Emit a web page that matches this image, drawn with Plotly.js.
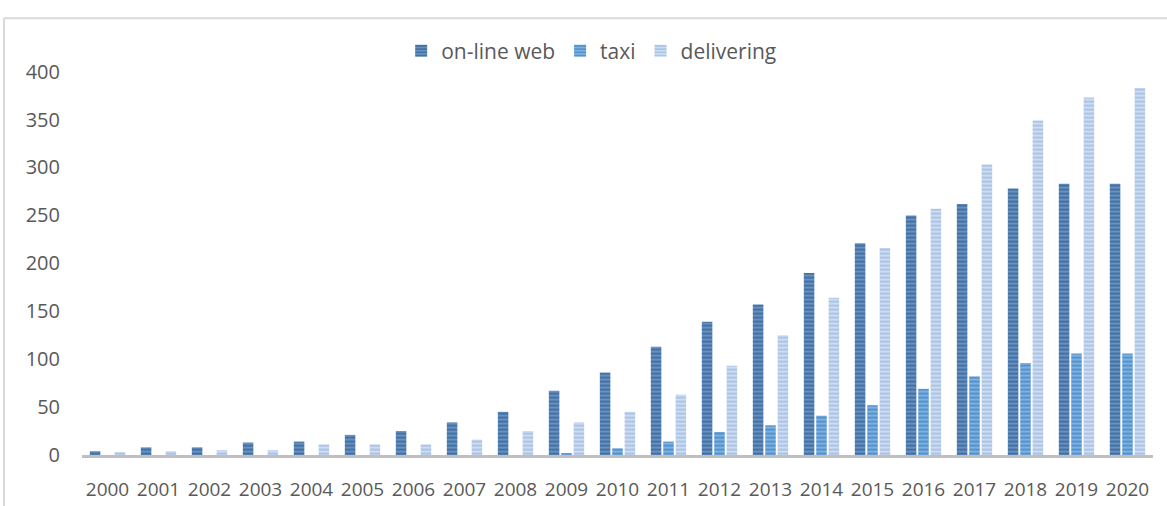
<!DOCTYPE html>
<html>
<head>
<meta charset="utf-8">
<script src="https://cdn.plot.ly/plotly-3.0.1.min.js"></script>
<style>html,body{margin:0;padding:0;background:#fff;}#chart{width:1167px;height:506px;}</style>
</head>
<body>
<div id="chart"></div>
<script>
const years = ["2000","2001","2002","2003","2004","2005","2006","2007","2008","2009","2010","2011","2012","2013","2014","2015","2016","2017","2018","2019","2020"];
const onlineWeb = [4,8,8,13,14,21,25,34,45,67,86,113,139,157,190,221,250,262,278,283,283];
const taxi = [0,0,0,0,0,0,0,0,0,2,7,14,24,31,41,52,69,82,96,106,106];
const delivering = [3,4,5,5,11,11,11,16,25,34,45,63,93,125,164,216,257,303,349,373,383];
const seriesNames = ["on-line web","taxi","delivering"];

function bar(name, y, fg, bg) {
  return {
    type: 'bar', name: name, x: years, y: y,
    marker: {
      color: bg,
      line: {width: 0},
      pattern: {shape: '-', fgcolor: fg, bgcolor: bg, size: 4, solidity: 0.45, fillmode: 'replace'}
    },
    hoverinfo: 'x+y+name'
  };
}

const data = [
  bar(seriesNames[0], onlineWeb, '#3f6e9f', '#6691c2'),
  bar(seriesNames[1], taxi, '#4f8fcc', '#7db1e0'),
  bar(seriesNames[2], delivering, '#a7c1e4', '#cddcf1')
];

const font = {family: 'Open Sans, Liberation Sans, sans-serif', size: 19, color: '#595959'};

const layout = {
  width: 1167, height: 506,
  margin: {l: 82, r: 14, t: 66, b: 51},
  paper_bgcolor: '#ffffff', plot_bgcolor: '#ffffff',
  font: font,
  barmode: 'group', bargap: 0.27, bargroupgap: 0.15,
  showlegend: true,
  legend: {
    orientation: 'h', xref: 'container', yref: 'container',
    x: 0.507, xanchor: 'center', y: 0.899, yanchor: 'middle',
    font: {family: font.family, size: 21, color: '#595959'},
    itemwidth: 30, traceorder: 'normal', itemclick: false
  },
  xaxis: {
    type: 'category', showgrid: false, zeroline: false,
    showline: true, linecolor: '#bfbfbf', linewidth: 3,
    ticks: '', ticklabelstandoff: 15,
    tickfont: {family: font.family, size: 19, color: '#595959'},
    fixedrange: true
  },
  yaxis: {
    range: [0, 400], dtick: 50, tick0: 0, showgrid: false, zeroline: false,
    showline: false, ticks: '', ticklabelstandoff: 21,
    tickfont: {family: font.family, size: 20, color: '#595959'},
    fixedrange: true
  },
  shapes: [
    {type: 'line', xref: 'paper', yref: 'paper', x0: -0.0728, x1: 1.2, y0: 1.139, y1: 1.139, line: {color: '#d9d9d9', width: 2}},
    {type: 'line', xref: 'paper', yref: 'paper', x0: -0.0728, x1: -0.0728, y0: 1.139, y1: -0.3, line: {color: '#d9d9d9', width: 2}}
  ]
};

Plotly.newPlot('chart', data, layout, {displayModeBar: false, staticPlot: true});
</script>
</body>
</html>
